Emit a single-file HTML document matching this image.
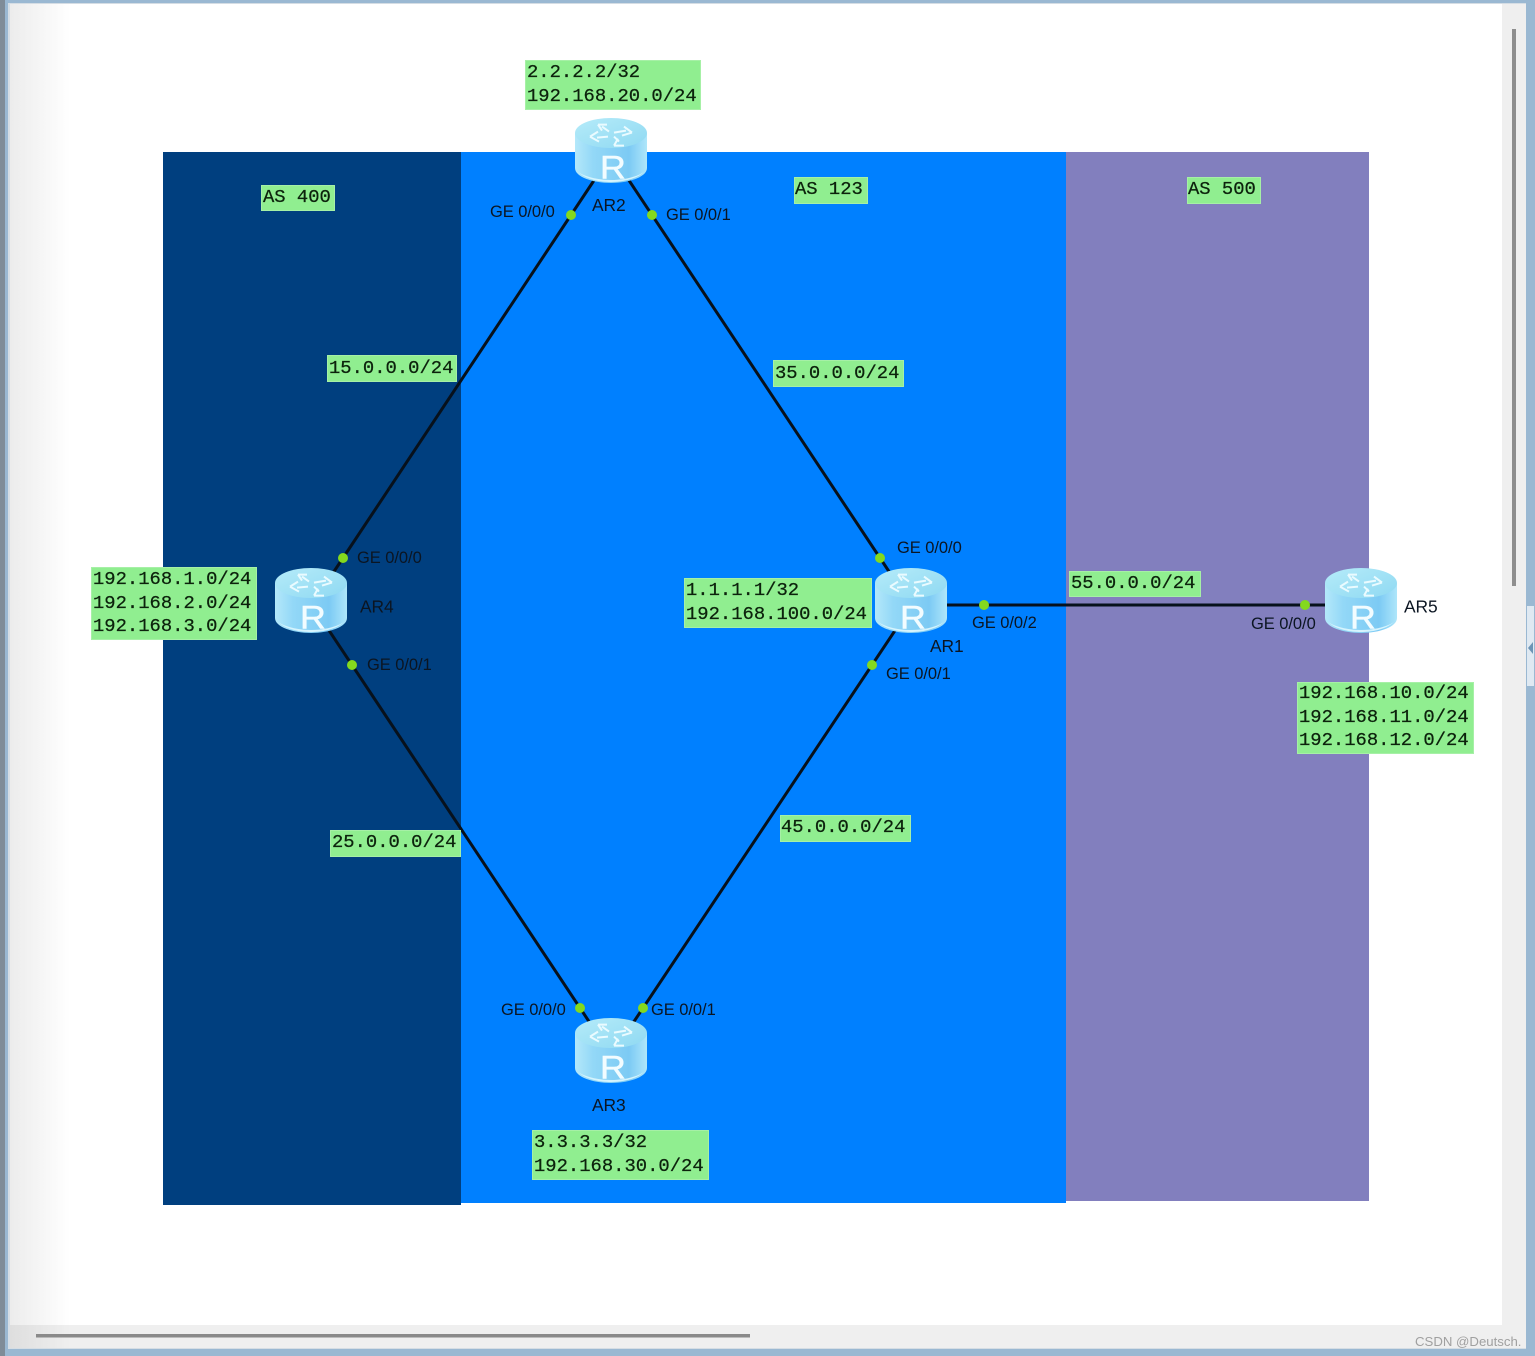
<!DOCTYPE html>
<html><head><meta charset="utf-8"><style>
html,body{margin:0;padding:0;background:#fff}
svg{display:block;filter:blur(.35px)}
.m{font-family:"Liberation Mono",monospace;font-size:18.85px;fill:#0c220c;stroke:#0c220c;stroke-width:.25px}
.s{font-family:"Liberation Sans",sans-serif;font-size:16.5px;fill:#0b1522;letter-spacing:-.05px}
.a{font-size:17.4px}
.r{font-family:"Liberation Sans",sans-serif;font-size:32px;fill:#f2fcff;stroke:#f2fcff;stroke-width:.5px;text-anchor:middle}
</style></head><body>
<svg xmlns="http://www.w3.org/2000/svg" width="1535" height="1356" viewBox="0 0 1535 1356">
<defs>
<linearGradient id="fade" x1="0" x2="1" y1="0" y2="0"><stop offset="0" stop-color="#ececec"/><stop offset="1" stop-color="#fff"/></linearGradient>
<linearGradient id="fade2" x1="0" x2="1" y1="0" y2="0"><stop offset="0" stop-color="#dedede"/><stop offset="1" stop-color="#efefef"/></linearGradient>
<linearGradient id="body" x1="0" x2="1" y1="0" y2="0"><stop offset="0" stop-color="#b4e8fa"/><stop offset=".25" stop-color="#93d8f7"/><stop offset=".75" stop-color="#7ccaf4"/><stop offset="1" stop-color="#aee6fa"/></linearGradient>
<linearGradient id="top" x1="0" x2="1" y1="0" y2="1"><stop offset="0" stop-color="#b5ebf9"/><stop offset="1" stop-color="#8fd9f2"/></linearGradient>
<g id="router">
<path d="M-36 15V50C-36 59-18 65 0 65S36 59 36 50V15Z" fill="url(#body)"/>
<path d="M-33 54C-24 62-10 64 0 64S24 62 33 54C24 60 10 62 0 62S-24 60-33 54Z" fill="#d6f4fd"/>
<ellipse cx="0" cy="15" rx="36" ry="15" fill="url(#top)"/>
<g transform="translate(0,15.6)" fill="none" stroke="#eafbff" stroke-width="2">
<path d="M-2-2L-9-7M-13-9H-4M-13-9L-9-3"/>
<path d="M3-1L15-3M21-1L13-7M21-1L11 2"/>
<path d="M3 3L8 8M3 12H13M3 12L7 5"/>
<path d="M-3 3L-14 4M-21 3L-13-2M-21 3L-12 8"/>
</g>
</g>
</defs>
<!-- window frame -->
<rect width="1535" height="1356" fill="#9ab8d2"/>
<rect x="0" y="0" width="5" height="1356" fill="#7f8c98"/>
<rect x="8" y="3" width="1518" height="1346" fill="#d5dde4"/>
<rect x="10" y="4" width="1516" height="1344" fill="#efefef"/>
<rect x="10" y="4" width="1492" height="1321" fill="#fff"/>
<rect x="10" y="4" width="60" height="1321" fill="url(#fade)"/>
<rect x="10" y="1325" width="60" height="23" fill="url(#fade2)"/>
<!-- scrollbars -->
<rect x="1512" y="29" width="4" height="557" fill="#8e8e8e"/>
<rect x="36" y="1334" width="714" height="3.5" fill="#8a8a8a"/>
<rect x="1527" y="606" width="7" height="80" fill="#dfe9f2"/>
<path d="M1533 642v12l-5-6z" fill="#6d94b5"/>
<!-- areas -->
<rect x="163" y="152" width="298" height="1053" fill="#003f7f"/>
<rect x="461" y="152" width="605" height="1051" fill="#0080ff"/>
<rect x="1066" y="152" width="303" height="1049" fill="#827fbe"/>
<!-- links -->
<g stroke="#07111c" stroke-width="3" fill="none">
<path d="M597.6 175L329 579"/>
<path d="M625.4 175L894 579"/>
<path d="M325.4 625L594 1029"/>
<path d="M898.7 625L629 1029"/>
<path d="M930 605H1340"/>
</g>
<!-- port dots -->
<g fill="#84d91e">
<circle cx="571" cy="215" r="5"/><circle cx="652" cy="215" r="5"/>
<circle cx="343" cy="558" r="5"/><circle cx="352" cy="665" r="5"/>
<circle cx="880" cy="558" r="5"/><circle cx="872" cy="665" r="5"/>
<circle cx="984" cy="605" r="5"/><circle cx="1305" cy="605" r="5"/>
<circle cx="580" cy="1008" r="5"/><circle cx="643" cy="1008" r="5"/>
</g>
<!-- routers -->
<use href="#router" x="611" y="118"/><text class="r" transform="translate(613,178.5) scale(1.12,1)">R</text>
<use href="#router" x="311" y="568"/><text class="r" transform="translate(313,628.5) scale(1.12,1)">R</text>
<use href="#router" x="911" y="568"/><text class="r" transform="translate(913,628.5) scale(1.12,1)">R</text>
<use href="#router" x="1361" y="568"/><text class="r" transform="translate(1363,628.5) scale(1.12,1)">R</text>
<use href="#router" x="611" y="1018"/><text class="r" transform="translate(613,1078.5) scale(1.12,1)">R</text>
<!-- green boxes -->
<g fill="#90ee90" stroke="#a6f0a6" stroke-width="1">
<rect x="525.5" y="60.5" width="175" height="49"/>
<rect x="261.5" y="185.5" width="73" height="25"/>
<rect x="794.5" y="177.5" width="73" height="26"/>
<rect x="1187.5" y="177.5" width="73" height="26"/>
<rect x="327.5" y="355.5" width="129" height="26"/>
<rect x="773.5" y="360.5" width="130" height="26"/>
<rect x="91.5" y="567.5" width="165" height="72"/>
<rect x="684.5" y="578.5" width="187" height="49"/>
<rect x="1069.5" y="571.5" width="131" height="25"/>
<rect x="1297.5" y="682.5" width="176" height="71"/>
<rect x="330.5" y="830.5" width="130" height="26"/>
<rect x="780.5" y="815.5" width="130" height="26"/>
<rect x="532.5" y="1130.5" width="176" height="49"/>
</g>
<!-- mono labels -->
<g class="m">
<text x="527" y="77">2.2.2.2/32</text><text x="527" y="101">192.168.20.0/24</text>
<text x="263" y="202">AS 400</text>
<text x="795" y="194">AS 123</text>
<text x="1188" y="194">AS 500</text>
<text x="329" y="373">15.0.0.0/24</text>
<text x="775" y="378">35.0.0.0/24</text>
<text x="93" y="584">192.168.1.0/24</text><text x="93" y="608">192.168.2.0/24</text><text x="93" y="631">192.168.3.0/24</text>
<text x="686" y="595">1.1.1.1/32</text><text x="686" y="619">192.168.100.0/24</text>
<text x="1071" y="588">55.0.0.0/24</text>
<text x="1299" y="698">192.168.10.0/24</text><text x="1299" y="722">192.168.11.0/24</text><text x="1299" y="745">192.168.12.0/24</text>
<text x="332" y="847">25.0.0.0/24</text>
<text x="781" y="832">45.0.0.0/24</text>
<text x="534" y="1147">3.3.3.3/32</text><text x="534" y="1171">192.168.30.0/24</text>
</g>
<!-- device + port labels -->
<g class="s">
<text class="a" x="592" y="211">AR2</text>
<text class="a" x="360" y="612.500">AR4</text>
<text class="a" x="930" y="652">AR1</text>
<text class="a" x="1404" y="612.500">AR5</text>
<text class="a" x="592" y="1111">AR3</text>
<text x="490" y="217">GE 0/0/0</text>
<text x="666" y="220">GE 0/0/1</text>
<text x="357" y="563">GE 0/0/0</text>
<text x="367" y="670">GE 0/0/1</text>
<text x="897" y="553">GE 0/0/0</text>
<text x="886" y="679">GE 0/0/1</text>
<text x="972" y="628">GE 0/0/2</text>
<text x="1251" y="629">GE 0/0/0</text>
<text x="501" y="1015">GE 0/0/0</text>
<text x="651" y="1015">GE 0/0/1</text>
</g>
<text x="1415" y="1346" font-family="Liberation Sans, sans-serif" font-size="13.2" fill="#a0a0a0">CSDN @Deutsch.</text>
</svg>
</body></html>
